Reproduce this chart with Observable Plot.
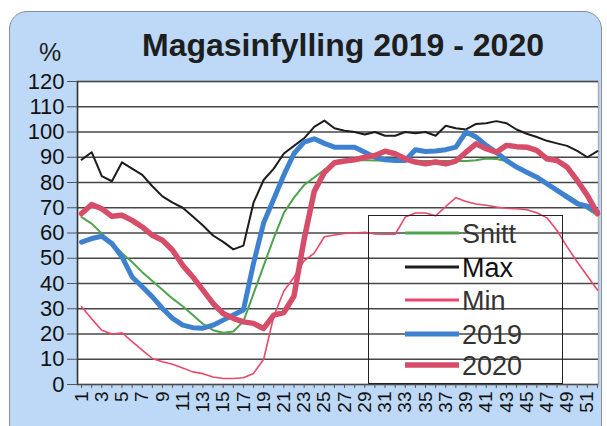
<!DOCTYPE html>
<html><head><meta charset="utf-8">
<script src="https://cdn.jsdelivr.net/npm/d3@7"></script>
<script src="https://cdn.jsdelivr.net/npm/@observablehq/plot@0.6"></script>
<style>
body{margin:0;background:#fff;font-family:"Liberation Sans",Arial,sans-serif;}
#wrap{position:relative;width:607px;height:426px;overflow:hidden;}
#bg{position:absolute;left:9px;top:11px;width:591px;height:440px;background:#bdd9f7;border:1.5px solid #8a8f96;border-radius:18px;}
#title{position:absolute;left:0;width:686px;top:27px;text-align:center;font-weight:bold;font-size:32px;color:#1e1e1e;line-height:36px;}
#pct{position:absolute;left:39px;top:38px;font-size:25px;color:#1e1e1e;}
#chart{position:absolute;left:0;top:0;}
#legend{position:absolute;left:368px;top:215px;width:195px;height:169px;border:1.5px solid #222;box-sizing:border-box;}
</style></head>
<body><div id="wrap"><div id="bg"></div><div id="title">Magasinfylling 2019 - 2020</div><div id="pct">%</div><div id="chart"></div><div id="legend"></div></div>
<script>
const weeks = [1,2,3,4,5,6,7,8,9,10,11,12,13,14,15,16,17,18,19,20,21,22,23,24,25,26,27,28,29,30,31,32,33,34,35,36,37,38,39,40,41,42,43,44,45,46,47,48,49,50,51,52];
const snitt = [66.3,63.7,59.8,56,52,48.5,44.5,41,37.5,34, 31,27.5,24,21.5,20.5,21,25,36,47,58, 68,74,79,82,85,87.3,88.3,88.8,88.8,88.7, 88.6,88.5,88.5,88.5,88.5,88.5,88.5,88.5,88.5,88.8, 89.5,89.3,88.5,86.5,84.5,82.5,80,77.5,75,72.5, 69.5,67];
const maxv = [89,92,82.5,80.5,88,85.5,83,78.5,74.5,72, 70,66.5,63,59,56.5,53.5,55,72,81,85.5, 91.5,94.5,97.5,102,104.5,101.5,100.5,100,99,100, 98.5,98.5,100,99.5,100,98.5,102.5,101.5,101,103.2, 103.5,104.3,103.5,101,99.3,98,96.5,95.5,94.5,92.5, 90,92.4];
const minv = [30.8,26,21.5,20,20.5,17,13.6,10.3,9,8, 6.5,5,4.3,3,2.4,2.4,2.7,4.4,10,27, 37,42.5,49,52,58.5,59.2,59.8,60,60.3,59.6, 59.5,59.5,66.3,67.9,67.9,66.8,70.5,74,72.5,71.5, 71,70.3,69.8,69.6,69.2,68,66,61,54.5,48.5, 43,37.4];
const y2019 = [56.4,57.8,58.7,55.8,50.5,42.6,38.7,34.7,30.1,26.2, 23.5,22.5,22.3,23.5,25.5,27.5,29.5,48,64,73.5, 83,91.5,96,97.3,95.5,94,94,94,92,90, 89,88.7,88.7,93,92.3,92.5,93,94,100,98, 94.7,92,88.7,86.1,84.1,82.1,79.5,76.9,74.2,71.6, 70.6,68.3];
const y2020 = [67.7,71.3,69.6,66.6,67,65,62.4,59.1,57.1,53.2, 47.2,42.6,37.4,32.1,28.1,26.2,24.8,24.2,22.2,27.5, 28.5,35,57.5,76.5,84,87.8,88.5,89,90,90.7, 92.4,91.4,89.4,88.1,87.4,88.1,87.4,88.5,92,95.3, 93.4,92,94.7,94.2,94,92.7,89.4,88.7,86.1,80.8, 74.9,67.7];
const yTicks = [0,10,20,30,40,50,60,70,80,90,100,110,120];
const seriesNames = ["Snitt","Max","Min","2019","2020"];
const seriesColors = ["#4ea44e","#1c1c1c","#e8486a","#3e82cf","#d64d6a"];
const seriesWidths = [2,2,1.6,5,5.5];
const seriesValues = [snitt,maxv,minv,y2019,y2020];
const xDomain = [0.6, 52.1];

const marks = [
  Plot.frame({fill:"white", stroke:"#a9b0b8", strokeWidth:1.5}),
  Plot.gridY(yTicks, {stroke:"#474747", strokeOpacity:1, strokeWidth:1.4}),
  Plot.ruleX([xDomain[0]], {stroke:"#333", strokeWidth:1.5}),
  Plot.axisY({ticks:yTicks, tickSize:10, tickPadding:3, fontSize:22, stroke:"#555", label:null}),
  Plot.axisX({ticks:weeks, tickSize:4, tickPadding:3, tickRotate:-90, fontSize:19, stroke:"#555", tickFormat:d => d % 2 ? String(d) : "", label:null})
];
seriesValues.forEach((vals,i) => {
  marks.push(Plot.line(weeks.map((w,j)=>({week:w, value:vals[j]})), {x:"week", y:"value", stroke:seriesColors[i], strokeWidth:seriesWidths[i], strokeLinejoin:"round", strokeLinecap:"round"}));
});

const chart = Plot.plot({
  width:607, height:426,
  marginLeft:77, marginRight:9, marginTop:81, marginBottom:42,
  x:{domain:xDomain, label:null},
  y:{domain:[0,120], label:null},
  style:{background:"transparent", fontFamily:"'Liberation Sans', Arial, sans-serif", color:"#111", overflow:"visible"},
  marks
});
document.getElementById("chart").appendChild(chart);

// legend
const lg = d3.select("#legend").append("svg").attr("width",195).attr("height",169).style("display","block");
const rowsY = [17,51,84,118,149];
seriesNames.forEach((name,i) => {
  lg.append("line").attr("x1",36).attr("x2",90).attr("y1",rowsY[i]).attr("y2",rowsY[i])
    .attr("stroke",seriesColors[i]).attr("stroke-width",Math.max(seriesWidths[i],3));
  lg.append("text").attr("x",93).attr("y",rowsY[i]).attr("dy","0.36em")
    .attr("font-size",27).attr("fill", i===1 ? "#111" : "#333")
    .attr("font-family","'Liberation Sans', Arial, sans-serif").text(name);
});
</script></body></html>
